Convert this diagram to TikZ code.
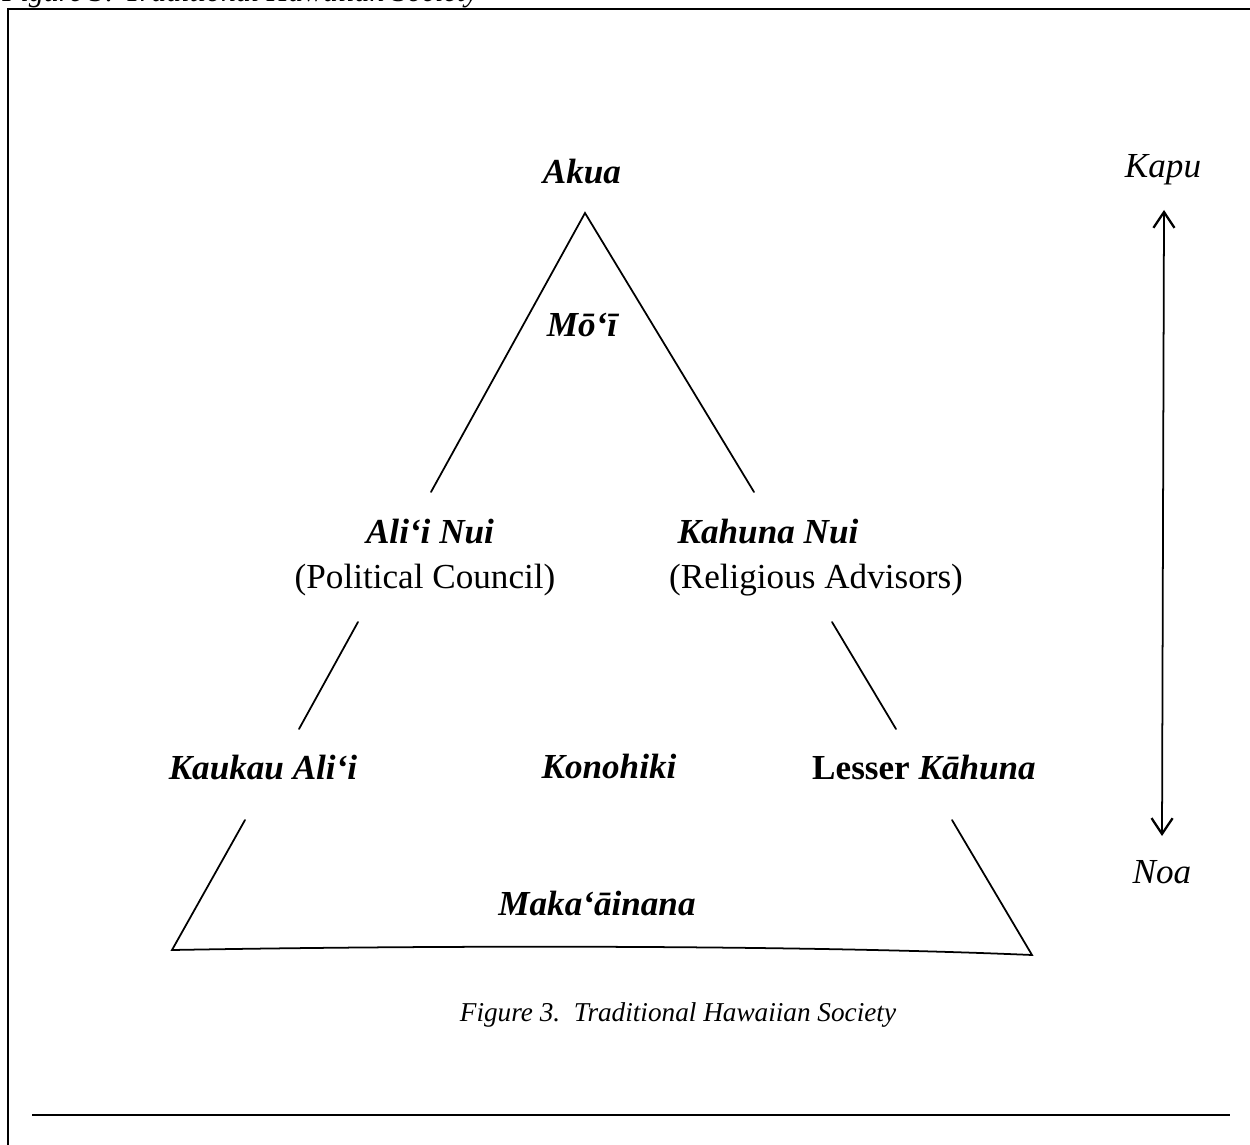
\documentclass[tikz,border=0pt]{standalone}
\usepackage{fontspec}
\setmainfont{Liberation Serif}
\usetikzlibrary{arrows.meta}
\tikzset{
  lbl/.style={font=\bfseries\itshape\fontsize{20}{24}\selectfont, inner sep=0pt},
  sub/.style={font=\fontsize{20}{24}\selectfont, inner sep=0pt},
  side/.style={font=\itshape\fontsize{20}{24}\selectfont, inner sep=0pt},
  capt/.style={font=\itshape\fontsize{15.5}{19}\selectfont, inner sep=0pt},
  hdrs/.style={font=\itshape\fontsize{17}{20}\selectfont, inner sep=0pt},
  ln/.style={line width=1pt, line cap=round},
  frame/.style={line width=1.6pt}
}
\begin{document}
\begin{tikzpicture}[x=0.02cm, y=-0.02cm]
\useasboundingbox (0,0) rectangle (1250,1145);
\clip (0,0) rectangle (1250,1145);
% cut-off header
\node[hdrs, anchor=base west] (hdr) at (2,2) {Figure 3: Traditional Hawaiian Society};
% frame
\draw[frame] (7,9) -- (1252,9);
\draw[frame] (8,9) -- (8,1150);
\draw[line width=1.1pt] (32,1115) -- (1230,1115);
% labels
\node[lbl] (akua) at (582,172) {Akua};
\node[lbl] (moi) at (582,325) {Mō‘ī};
\node[lbl] (alii) at (430,532) {Ali‘i Nui};
\node[sub] (pol) at (425,580) {(Political Council)};
\node[lbl] (kahuna) at (768,532) {Kahuna Nui};
\node[sub] (rel) at (816,580) {(Religious Advisors)};
\node[lbl] (kaukau) at (263,768) {Kaukau Ali‘i};
\node[lbl] (kono) at (609,766) {Konohiki};
\node[lbl] (lesser) at (924,768) {\upshape Lesser \itshape Kāhuna};
\node[lbl] (maka) at (597,903) {Maka‘āinana};
\node[side] (kapu) at (1163,170) {Kapu};
\node[side] (noa) at (1162,872) {Noa};
\node[capt] (cap) at (678,1015) {Figure 3.\ \ Traditional Hawaiian Society};
% coordinates
\coordinate (apex) at (585,213);
\coordinate (tl) at (431,492);
\coordinate (tr) at (754,492);
\coordinate (ml1) at (358,622);
\coordinate (ml2) at (299,729);
\coordinate (mr1) at (832,622);
\coordinate (mr2) at (896,729);
\coordinate (bl1) at (245,820);
\coordinate (bl2) at (172,950);
\coordinate (br1) at (952,820);
\coordinate (br2) at (1032,955);
\coordinate (atop) at (1164,210);
\coordinate (abot) at (1162,836);
% lines
\draw[ln] (tl) -- (apex) -- (tr);
\draw[ln] (ml1) -- (ml2);
\draw[ln] (mr1) -- (mr2);
\draw[ln, line join=miter] (bl1) -- (bl2) .. controls (450,945) and (800,945) .. (br2) -- (br1);
\draw[line width=1pt, {Straight Barb[length=9pt,width=12pt,line width=1.3pt]}-{Straight Barb[length=9pt,width=12pt,line width=1.3pt]}] (atop) -- (abot);
\end{tikzpicture}
\end{document}
